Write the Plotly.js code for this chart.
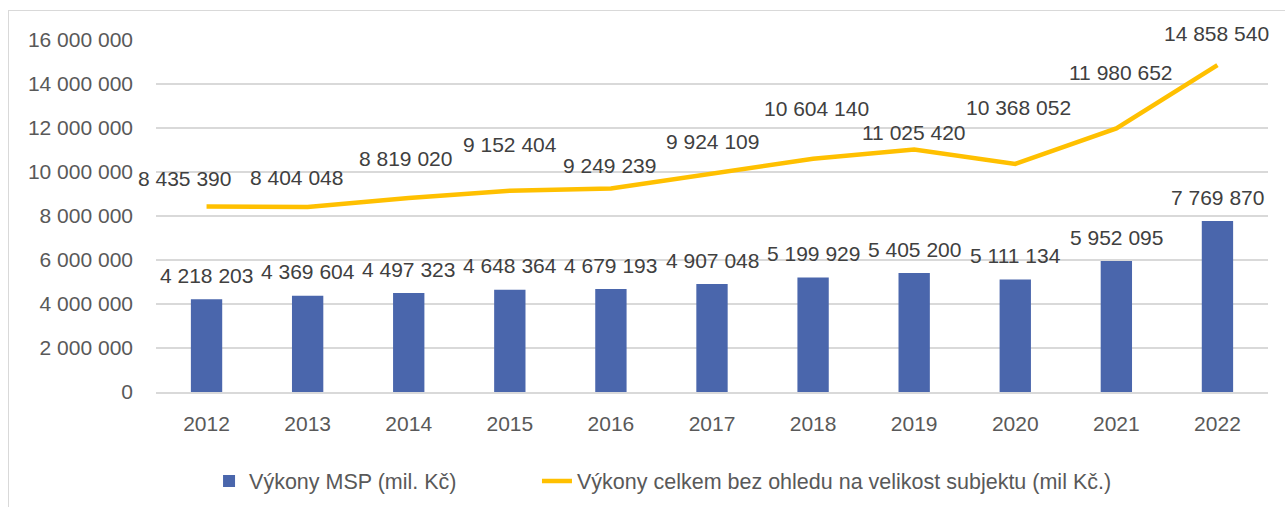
<!DOCTYPE html>
<html>
<head>
<meta charset="utf-8">
<script src="https://cdn.plot.ly/plotly-3.0.1.min.js"></script>
<style>
html,body{margin:0;padding:0;background:#fff;overflow:hidden;width:1285px;height:507px;}
#frame{position:absolute;left:8px;top:10px;width:1300px;height:520px;border:1.5px solid #d9d9d9;box-sizing:border-box;}
#chart{position:absolute;left:0;top:0;width:1285px;height:507px;}
</style>
</head>
<body>
<div id="frame"></div>
<div id="chart"></div>
<script>
// Data
const years = ['2012','2013','2014','2015','2016','2017','2018','2019','2020','2021','2022'];
const msp = [4218203, 4369604, 4497323, 4648364, 4679193, 4907048, 5199929, 5405200, 5111134, 5952095, 7769870];
const total = [8435390, 8404048, 8819020, 9152404, 9249239, 9924109, 10604140, 11025420, 10368052, 11980652, 14858540];
const seriesNames = ['Výkony MSP (mil. Kč)', 'Výkony celkem bez ohledu na velikost subjektu (mil Kč.)'];
const yTicks = [0, 2000000, 4000000, 6000000, 8000000, 10000000, 12000000, 14000000, 16000000];

// Label offsets (style, in px) for the line labels
const lineLabelDx = [-22, -11, -3, 0, -1, 0, 3, 0, 3, 5, -1];
const lineLabelUp = [28, 30, 39, 46, 23, 32, 50, 17, 56, 56, 32];
const barLabelUp = 24;

function fmt(v){ return String(v).replace(/\B(?=(\d{3})+(?!\d))/g, ' '); }

const FONT = 'Liberation Sans, Arial, sans-serif';
const TXT = '#404040';

const traces = [
  {type:'bar', x:years, y:msp, name:seriesNames[0], marker:{color:'#4a66ac'}, width:0.31, hoverinfo:'none', legend:'legend'},
  {type:'scatter', mode:'lines', x:years, y:total, name:seriesNames[1], line:{color:'#ffc000', width:4.5}, hoverinfo:'none', legend:'legend2'}
];

const annotations = [];
years.forEach((yr,i)=>{
  annotations.push({xref:'x', yref:'y', x:i, y:msp[i], text:fmt(msp[i]), showarrow:false, xanchor:'center', yanchor:'middle', yshift:barLabelUp, font:{family:FONT, size:21, color:TXT}});
  annotations.push({xref:'x', yref:'y', x:i, y:total[i], text:fmt(total[i]), showarrow:false, xanchor:'center', yanchor:'middle', xshift:lineLabelDx[i], yshift:lineLabelUp[i], font:{family:FONT, size:21, color:TXT}});
});

const legendFont = {family:FONT, size:21.5, color:'#595959'};
const layout = {
  width:1285, height:507,
  margin:{l:156, r:17, t:40, b:115, autoexpand:false},
  paper_bgcolor:'rgba(0,0,0,0)', plot_bgcolor:'rgba(0,0,0,0)',
  font:{family:FONT, size:21, color:'#595959'},
  showlegend:true,
  legend:{orientation:'h', x:0.0477, xanchor:'left', y:-0.253, yanchor:'middle', font:legendFont, itemwidth:30},
  legend2:{orientation:'h', x:0.3426, xanchor:'left', y:-0.253, yanchor:'middle', font:legendFont, itemwidth:30},
  xaxis:{type:'category', range:[-0.5, years.length-0.5], autorange:false, showgrid:false, showline:true, linecolor:'#d9d9d9', linewidth:1.5, ticks:'', ticklabelstandoff:12, tickfont:{family:FONT, size:21, color:'#595959'}, fixedrange:true},
  yaxis:{range:[0,16000000], autorange:false, tickvals:yTicks, ticktext:yTicks.map(fmt), showgrid:true, gridcolor:'#d9d9d9', gridwidth:1.5, zeroline:false, showline:false, ticks:'', ticklabelstandoff:22, tickfont:{family:FONT, size:21, color:'#595959'}, fixedrange:true},
  annotations:annotations
};

Plotly.newPlot('chart', traces, layout, {displayModeBar:false, staticPlot:true});
</script>
</body>
</html>
